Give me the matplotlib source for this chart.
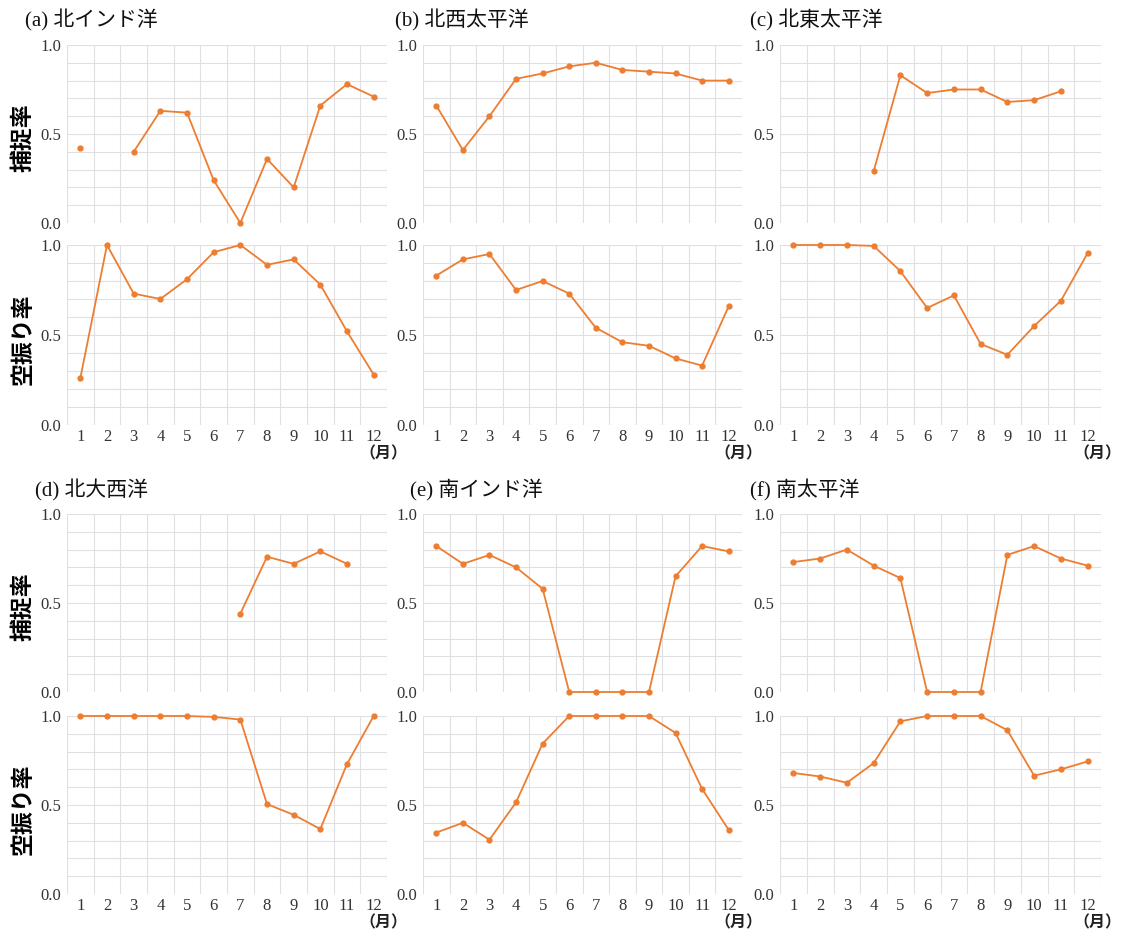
import numpy as np
import matplotlib
matplotlib.use("Agg")
import matplotlib.pyplot as plt
from matplotlib.ticker import MultipleLocator

nan = np.nan
months = list(range(1, 13))
month_labels = [str(m) for m in months]

titles = ["(a) 北インド洋", "(b) 北西太平洋", "(c) 北東太平洋",
          "(d) 北大西洋", "(e) 南インド洋", "(f) 南太平洋"]

# 捕捉率 (capture rate) per basin
cap_a = [0.42, nan, 0.40, 0.63, 0.62, 0.24, 0.00, 0.36, 0.20, 0.66, 0.78, 0.71]
cap_b = [0.66, 0.41, 0.60, 0.81, 0.84, 0.88, 0.90, 0.86, 0.85, 0.84, 0.80, 0.80]
cap_c = [nan, nan, nan, 0.29, 0.83, 0.73, 0.75, 0.75, 0.68, 0.69, 0.74, nan]
cap_d = [nan, nan, nan, nan, nan, nan, 0.44, 0.76, 0.72, 0.79, 0.72, nan]
cap_e = [0.82, 0.72, 0.77, 0.70, 0.58, 0.00, 0.00, 0.00, 0.00, 0.65, 0.82, 0.79]
cap_f = [0.73, 0.75, 0.80, 0.71, 0.64, 0.00, 0.00, 0.00, 0.77, 0.82, 0.75, 0.71]

# 空振り率 (false alarm rate) per basin
fa_a = [0.26, 1.00, 0.73, 0.70, 0.81, 0.96, 1.00, 0.89, 0.92, 0.78, 0.52, 0.28]
fa_b = [0.83, 0.92, 0.95, 0.75, 0.80, 0.73, 0.54, 0.46, 0.44, 0.37, 0.33, 0.66]
fa_c = [1.00, 1.00, 1.00, 0.995, 0.855, 0.65, 0.72, 0.45, 0.39, 0.55, 0.69, 0.955]
fa_d = [1.00, 1.00, 1.00, 1.00, 1.00, 0.995, 0.98, 0.505, 0.445, 0.365, 0.73, 1.00]
fa_e = [0.345, 0.40, 0.305, 0.515, 0.845, 1.00, 1.00, 1.00, 1.00, 0.905, 0.59, 0.36]
fa_f = [0.68, 0.66, 0.625, 0.735, 0.97, 1.00, 1.00, 1.00, 0.92, 0.665, 0.70, 0.745]

capture = [cap_a, cap_b, cap_c, cap_d, cap_e, cap_f]
false_alarm = [fa_a, fa_b, fa_c, fa_d, fa_e, fa_f]

W, H = 1129, 938
ORANGE = "#ED7D31"
GRID = "#e0e0e4"
SERIF = ["Liberation Serif", "Noto Sans CJK JP"]
CJK = ["Noto Sans CJK JP", "DejaVu Sans"]

fig = plt.figure(figsize=(W / 100, H / 100), dpi=100)

# pixel boxes: column x extents, row y extents (top, bottom) for each sub panel
cols = [(67, 387), (423, 742), (780, 1101)]
rows = [((45, 223), (245, 425)), ((514, 692), (716, 894))]
title_pos = [(25, 20), (395, 20), (750, 20), (35, 490), (410, 490), (750, 490)]


def px_axes(x0, x1, y0, y1):
    return fig.add_axes([x0 / W, 1 - y1 / H, (x1 - x0) / W, (y1 - y0) / H])


def style(ax, show_months):
    ax.set_xlim(0.5, 12.5)
    ax.set_ylim(0, 1.0)
    for s in ax.spines.values():
        s.set_visible(False)
    ax.set_yticks([0.0, 0.5, 1.0])
    ax.set_yticklabels(["0.0", "0.5", "1.0"], family=SERIF, fontsize=12, color="#333333")
    ax.yaxis.set_minor_locator(MultipleLocator(0.1))
    ax.set_xticks(months)
    ax.set_xticks(np.arange(0.5, 13.0, 1.0), minor=True)
    if show_months:
        ax.set_xticklabels(month_labels, family=SERIF, fontsize=12, color="#333333")
    else:
        ax.set_xticklabels([])
    ax.tick_params(which="both", length=0)
    ax.tick_params(axis="y", pad=4)
    ax.tick_params(axis="x", pad=3)
    ax.grid(which="minor", color=GRID, linewidth=0.8)
    ax.grid(which="major", axis="y", color=GRID, linewidth=0.8)
    ax.set_axisbelow(True)


for i in range(6):
    r, c = divmod(i, 3)
    x0, x1 = cols[c]
    (t0, b0), (t1, b1) = rows[r]
    ax_top = px_axes(x0, x1, t0, b0)
    ax_bot = px_axes(x0, x1, t1, b1)
    style(ax_top, False)
    style(ax_bot, True)
    ax_top.plot(months, capture[i], color=ORANGE, lw=1.3, marker="o", ms=3.5, clip_on=False)
    ax_bot.plot(months, false_alarm[i], color=ORANGE, lw=1.3, marker="o", ms=3.5, clip_on=False)

    tx, ty = title_pos[i]
    fig.text(tx / W, 1 - ty / H, titles[i], family=SERIF, fontsize=15,
             ha="left", va="center", color="#111111")
    fig.text((x1 + 20) / W, 1 - (b1 + 28) / H, "（月）", family=CJK, fontsize=11.5,
             weight="bold", ha="right", va="center", color="#222222")
    if c == 0:
        fig.text(23 / W, 1 - ((t0 + b0) / 2 + 4) / H, "捕捉率", family=CJK, fontsize=16.5,
                 weight="bold", rotation=90, ha="center", va="center")
        fig.text(23 / W, 1 - ((t1 + b1) / 2 + 4) / H, "空振り率", family=CJK, fontsize=16.5,
                 weight="bold", rotation=90, ha="center", va="center")

fig.savefig("out.png", dpi=100, facecolor="white")
